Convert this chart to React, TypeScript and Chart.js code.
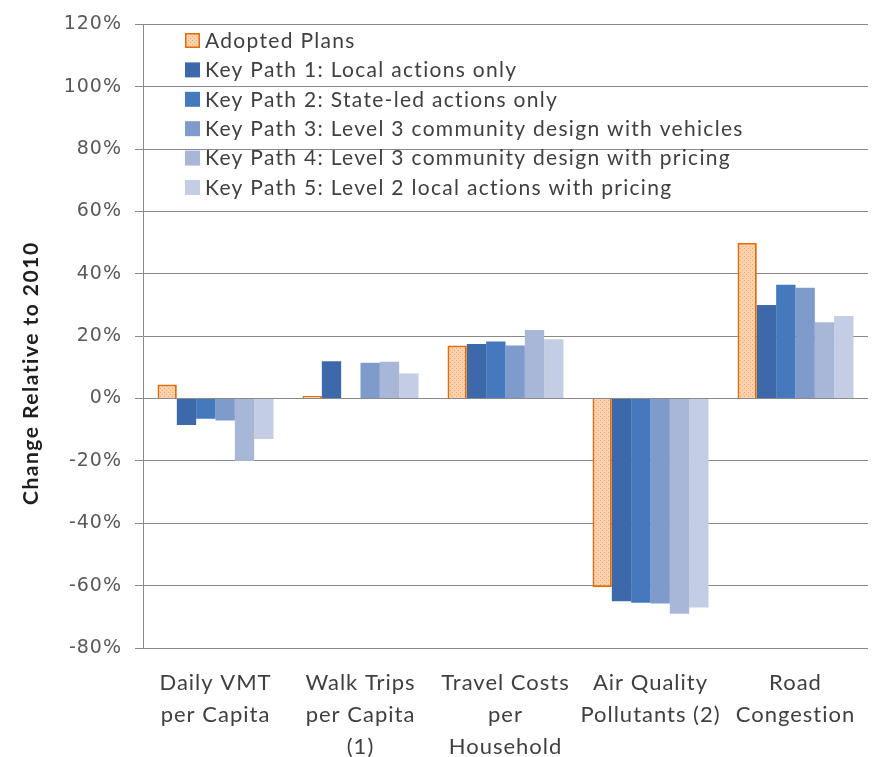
import React, { useEffect, useRef } from "react";
import { Chart, registerables } from "chart.js";

Chart.register(...registerables);

// ---- Data ----
const categories: string[][] = [
  ["Daily VMT", "per Capita"],
  ["Walk Trips", "per Capita", "(1)"],
  ["Travel Costs", "per", "Household"],
  ["Air Quality", "Pollutants (2)"],
  ["Road", "Congestion"],
];

const seriesLabels: string[] = [
  "Adopted Plans",
  "Key Path 1: Local actions only",
  "Key Path 2: State-led actions only",
  "Key Path 3: Level 3 community design with vehicles",
  "Key Path 4: Level 3 community design with pricing",
  "Key Path 5: Level 2 local actions with pricing",
];

const adoptedPlans: number[] = [4.5, 0.8, 17, -60.5, 50];
const keyPath1: number[] = [-8.5, 12, 17.5, -65, 30];
const keyPath2: number[] = [-6.5, 0, 18.3, -65.5, 36.5];
const keyPath3: number[] = [-7, 11.5, 17, -65.7, 35.5];
const keyPath4: number[] = [-20, 11.8, 22, -69, 24.5];
const keyPath5: number[] = [-13, 8, 19, -67, 26.5];

const yMin = -80;
const yMax = 120;
const yStep = 20;
const yAxisTitle = "Change Relative to 2010";

const seriesColors: string[] = ["#FAC9A0", "#3D69AA", "#4579BD", "#7E9BCB", "#A8B7D8", "#C3CDE3"];

function makePattern(): CanvasPattern | string {
  const c = document.createElement("canvas");
  c.width = 4;
  c.height = 4;
  const g = c.getContext("2d");
  if (!g) return seriesColors[0];
  g.fillStyle = "#FCD2AE";
  g.fillRect(0, 0, 4, 4);
  g.fillStyle = "#F2A66A";
  g.fillRect(0, 0, 1, 1);
  g.fillRect(2, 2, 1, 1);
  const p = g.createPattern(c, "repeat");
  return p || seriesColors[0];
}

const spacingPlugin = {
  id: "letterSpacing",
  beforeDraw(chart: any) {
    (chart.ctx as any).letterSpacing = "1px";
  },
  afterDraw(chart: any) {
    (chart.ctx as any).letterSpacing = "0px";
  },
};

const legendPlugin = {
  id: "insideLegend",
  afterDraw(chart: any) {
    const ctx = chart.ctx;
    const x0 = 185;
    const y0 = 40;
    const step = 29.4;
    ctx.save();
    (ctx as any).letterSpacing = "1.3px";
    ctx.font = "21px Lato";
    ctx.textBaseline = "middle";
    ctx.textAlign = "left";
    chart.data.datasets.forEach((ds: any, i: number) => {
      const cy = y0 + i * step;
      ctx.fillStyle = ds.backgroundColor;
      ctx.fillRect(x0, cy - 7, 15, 15);
      if (ds.borderWidth) {
        ctx.strokeStyle = ds.borderColor;
        ctx.lineWidth = 1.5;
        ctx.strokeRect(x0 + 0.75, cy - 6.25, 13.5, 13.5);
      }
      ctx.fillStyle = "#404040";
      ctx.fillText(ds.label, x0 + 20, cy + 1);
    });
    ctx.restore();
  },
};

const yTitlePlugin = {
  id: "yTitle",
  afterDraw(chart: any) {
    const ctx = chart.ctx;
    ctx.save();
    (ctx as any).letterSpacing = "1.5px";
    ctx.translate(31, chart.height * 0.493);
    ctx.rotate(-Math.PI / 2);
    ctx.font = "bold 21px Lato";
    ctx.fillStyle = "#1E1E1E";
    ctx.textAlign = "center";
    ctx.textBaseline = "middle";
    ctx.fillText(yAxisTitle, 0, 0);
    ctx.restore();
  },
};

export default function App() {
  const ref = useRef<HTMLCanvasElement | null>(null);

  useEffect(() => {
    document.body.style.margin = "0";
    if (!ref.current) return;
    const pattern = makePattern();
    const values = [adoptedPlans, keyPath1, keyPath2, keyPath3, keyPath4, keyPath5];
    const datasets = values.map((v, i) => ({
      label: seriesLabels[i],
      data: v,
      backgroundColor: i === 0 ? pattern : seriesColors[i],
      borderColor: i === 0 ? "#E46C0A" : seriesColors[i],
      borderWidth: i === 0 ? 2 : 0,
      categoryPercentage: 0.8,
      barPercentage: 1.0,
    }));
    const chart = new Chart(ref.current, {
      type: "bar",
      data: { labels: categories, datasets: datasets as any },
      plugins: [spacingPlugin, legendPlugin, yTitlePlugin],
      options: {
        animation: false,
        responsive: false,
        layout: { padding: { top: 18, right: 4, left: 0, bottom: 0 } },
        plugins: { legend: { display: false }, tooltip: { enabled: false } },
        scales: {
          x: {
            grid: { display: false, drawTicks: false },
            border: { display: false },
            ticks: {
              font: { family: "Lato", size: 22, lineHeight: 1.45 },
              color: "#404040",
              padding: 19,
              maxRotation: 0,
              autoSkip: false,
            },
            afterFit: (s: any) => {
              s.height = 109;
            },
          },
          y: {
            min: yMin,
            max: yMax,
            grid: { color: "#8A8A8A", lineWidth: 1, tickLength: 8, drawTicks: true },
            border: { display: true, color: "#8A8A8A" },
            ticks: {
              stepSize: yStep,
              font: { family: "DejaVu Sans", size: 19 },
              color: "#595959",
              padding: 13,
              callback: (v: any) => v + "%",
            },
            afterFit: (s: any) => {
              s.width = 143;
            },
          },
        },
      },
    });
    return () => chart.destroy();
  }, []);

  return (
    <div style={{ width: 872, height: 757 }}>
      <canvas ref={ref} width={872} height={757} />
    </div>
  );
}
